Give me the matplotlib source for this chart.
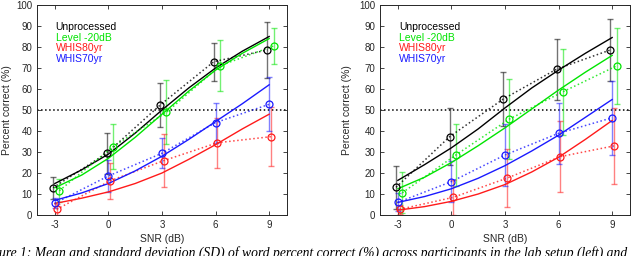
import matplotlib
matplotlib.use("Agg")
import matplotlib.pyplot as plt
import numpy as np

plt.rcParams['font.family'] = ['Liberation Sans', 'DejaVu Sans']
plt.rcParams['axes.unicode_minus'] = False

snr = [-3, 0, 3, 6, 9]
curve_snr = [-3, -1.5, 0, 1.5, 3, 4.5, 6, 7.5, 9]
names = ["Unprocessed", "Level -20dB", "WHIS80yr", "WHIS70yr"]
colors = ["black", "#00e400", "#ff1a1a", "#1a1aff"]
x_offset = [-0.1, 0.25, 0.1, 0.0]

# left panel (lab setup)
lab_mean = [
    [13.0, 29.4, 52.4, 73.0, 78.6],
    [11.6, 32.5, 48.9, 71.1, 80.5],
    [2.7, 16.3, 25.9, 34.4, 37.3],
    [5.6, 18.6, 29.4, 44.0, 52.7],
]
lab_sd = [
    [5.3, 9.8, 10.6, 9.0, 13.5],
    [5.5, 10.7, 15.3, 12.0, 8.5],
    [2.5, 8.7, 12.5, 12.0, 14.0],
    [2.5, 7.6, 7.2, 9.5, 12.8],
]
lab_fit = [
    [15, 21.5, 29, 39, 50, 60.5, 70, 78, 85],
    [13, 19, 27, 37, 48, 59, 69, 77, 84],
    [5.5, 8, 11, 15, 20, 26.5, 33.5, 41, 48],
    [7, 10.5, 15, 21, 28, 36, 44.5, 53, 62],
]

# right panel
online_mean = [
    [13.2, 37.3, 55.2, 69.5, 78.6],
    [10.6, 28.6, 45.7, 58.7, 71.0],
    [2.7, 8.4, 17.5, 27.8, 32.9],
    [6.0, 15.9, 28.6, 38.9, 46.3],
]
online_sd = [
    [10.3, 13.5, 13.0, 14.5, 14.7],
    [9.7, 14.6, 19.0, 20.5, 18.0],
    [2.2, 8.4, 13.8, 16.8, 18.0],
    [4.3, 9.8, 14.6, 14.5, 17.5],
]
online_fit = [
    [16.5, 24, 32, 41, 51, 60.5, 69, 77, 84.5],
    [12.5, 18, 25, 33, 41.5, 50.5, 59.5, 68, 76],
    [2.3, 4, 6.5, 10, 14.5, 20.5, 27.5, 36, 45],
    [6, 8.8, 12.5, 17.5, 23.5, 30.5, 38, 46.5, 55],
]

fig = plt.figure(figsize=(6.4, 2.56), dpi=100)
ax_l = fig.add_axes([37 / 640, 41 / 256, 250 / 640, 210 / 256])
ax_r = fig.add_axes([380 / 640, 41 / 256, 250 / 640, 210 / 256])

axis_col = "#262626"

for ax, means, sds, fits, ylab_x in [(ax_l, lab_mean, lab_sd, lab_fit, -0.1),
                                      (ax_r, online_mean, online_sd, online_fit, -0.113)]:
    ax.axhline(50, color="black", linestyle=":", linewidth=1.1, zorder=1)
    for i in range(len(names)):
        xs = np.array(snr) + x_offset[i]
        ax.errorbar(xs, means[i], yerr=sds[i], fmt="none", ecolor=colors[i],
                    alpha=0.55, elinewidth=1.0, capsize=2.5, capthick=1.0, zorder=2)
        ax.plot(xs, means[i], linestyle=":", color=colors[i], linewidth=1.1,
                alpha=0.8, zorder=3)
        ax.plot(xs, means[i], linestyle="none", marker="o", markersize=5,
                markerfacecolor="none", markeredgecolor=colors[i],
                markeredgewidth=0.9, zorder=4)
        ax.plot(curve_snr, fits[i], color=colors[i], linewidth=1.0, zorder=3)

    for i, name in enumerate(names):
        ax.text(-2.95, 89.5 - i * 5.1, name, color=colors[i], fontsize=7.5,
                va="center", ha="left")

    ax.set_xlim(-4, 10)
    ax.set_ylim(0, 100)
    ax.set_xticks(snr)
    ax.set_yticks(np.arange(0, 101, 10))
    ax.tick_params(direction="in", top=True, right=True, length=3,
                   labelsize=7, colors=axis_col, width=0.6)
    for sp in ax.spines.values():
        sp.set_color(axis_col)
        sp.set_linewidth(0.7)
    ax.set_xlabel("SNR (dB)", fontsize=7.5, color=axis_col, labelpad=3)
    ax.set_ylabel("Percent correct (%)", fontsize=7.5, color=axis_col)
    ax.yaxis.set_label_coords(ylab_x, 0.5)

# figure caption, cut by the bottom edge as in the source page
fig.text(-0.031, 0.038,
         "Figure 1: Mean and standard deviation (SD) of word percent correct (%) "
         "across participants in the lab setup (left) and",
         fontsize=9.8, style="italic", family="Liberation Serif",
         ha="left", va="top")

fig.savefig("out.png", dpi=100)
